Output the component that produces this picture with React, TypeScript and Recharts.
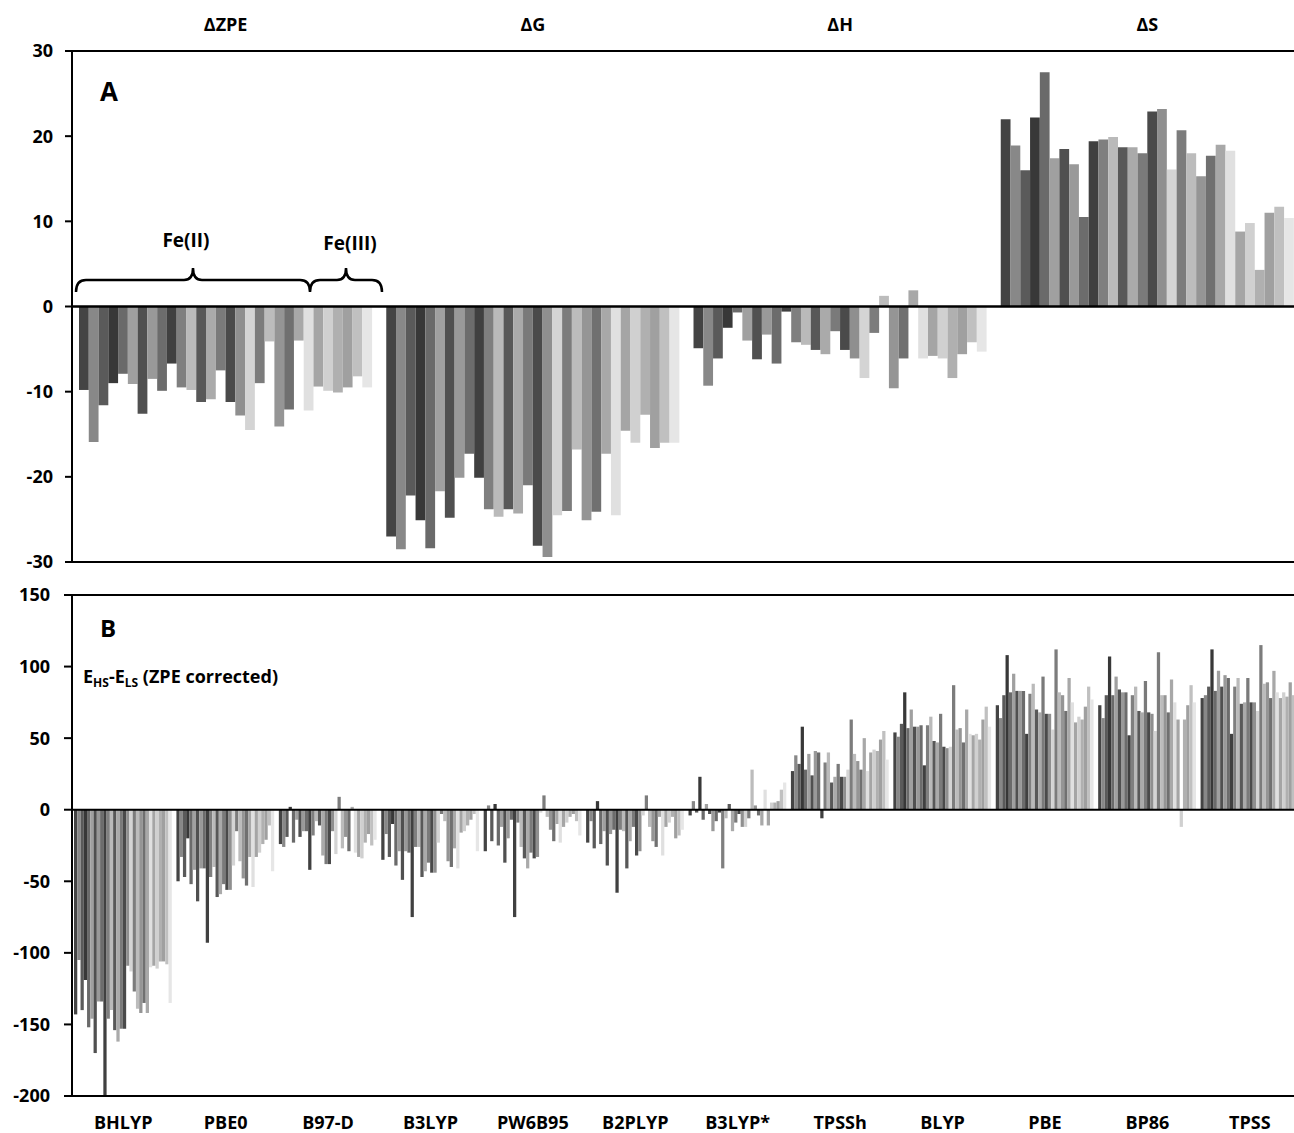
import React from 'react';
import { BarChart, Bar, XAxis, YAxis, ReferenceLine } from 'recharts';

// panel A: thermodynamic corrections per complex
const properties = ['ΔZPE', 'ΔG', 'ΔH', 'ΔS'];
const dZPE = [-9.8, -15.9, -11.6, -9.0, -7.9, -9.1, -12.6, -8.5, -9.9, -6.7, -9.5, -9.8, -11.2, -10.9, -7.5, -11.2, -12.8, -14.5, -9.0, -4.1, -14.1, -12.1, -4.0, -12.2, -9.4, -9.9, -10.1, -9.5, -8.2, -9.5];
const dG = [-27.0, -28.5, -22.2, -25.1, -28.4, -21.7, -24.8, -20.1, -17.3, -20.1, -23.8, -24.7, -23.8, -24.3, -21.0, -28.1, -29.4, -24.5, -24.0, -16.8, -25.1, -24.1, -17.3, -24.5, -14.6, -16.0, -12.7, -16.6, -16.0, -16.0];
const dH = [-4.9, -9.3, -6.1, -2.5, -0.7, -4.0, -6.2, -3.3, -6.7, -0.6, -4.2, -4.5, -5.1, -5.6, -2.9, -5.1, -6.1, -8.4, -3.1, 1.25, -9.6, -6.1, 1.9, -6.1, -5.8, -6.1, -8.4, -5.6, -4.2, -5.3];
const dS = [22.0, 18.9, 16.0, 22.2, 27.5, 17.4, 18.5, 16.7, 10.5, 19.4, 19.6, 19.9, 18.7, 18.7, 18.0, 22.9, 23.2, 16.1, 20.7, 18.0, 15.3, 17.7, 19.0, 18.3, 8.8, 9.8, 4.3, 11.0, 11.7, 10.4];
const ticksA = [-30, -20, -10, 0, 10, 20, 30];

// panel B: E_HS - E_LS per functional
const functionals = ['BHLYP', 'PBE0', 'B97-D', 'B3LYP', 'PW6B95', 'B2PLYP', 'B3LYP*', 'TPSSh', 'BLYP', 'PBE', 'BP86', 'TPSS'];
const bhlyp = [-143, -105, -140, -119, -152, -146, -170, -134, -134, -200, -146, -140, -154, -162, -153, -153, -109, -113, -127, -139, -142, -135, -142, -110, -109, -111, -106, -106, -108, -135];
const pbe0 = [-50, -33, -47, -20, -52, -42, -64, -41, -41, -93, -47, -40, -61, -59, -52, -56, -56, -39, -15, -36, -48, -53, -33, -54, -33, -30, -24, -21, -11, -43];
const b97d = [-24, -26, -19, 2, -23, -7, -19, -15, -15, -42, -18, -8, -11, -32, -38, -38, -15, -31, 9, -27, -19, -29, 2, -30, -33, -34, -23, -17, -25, -21];
const b3lyp = [-35, -17, -33, -10, -39, -29, -49, -29, -30, -75, -26, -26, -47, -43, -37, -44, -44, -23, -3, -8, -36, -40, -27, -41, -16, -15, -11, -7, -3, -29];
const pw6b95 = [-29, 3, -22, 4, -25, -12, -37, -20, -7, -75, -9, -26, -34, -41, -30, -34, -33, -2, 10, -5, -14, -22, -10, -23, -12, -9, -5, -3, -8, -18];
const b2plyp = [-23, -8, -27, 6, -24, -15, -39, -17, -14, -58, -14, -15, -41, -22, -12, -32, -29, -4, 10, -12, -22, -26, -5, -32, -12, -9, -5, -20, -18, -14];
const b3lypStar = [-4, 6, -2, 23, -7, 4, -3, -15, -8, -2, -41, -6, 4, -15, -9, -3, -12, -12, -6, 28, 3, -4, -11, 14, -11, 5, 5, 6, 14, 19];
const tpssh = [27, 38, 32, 58, 28, 39, 24, 41, 40, -6, 33, 40, 19, 23, 32, 23, 23, 28, 63, 39, 34, 28, 50, 27, 40, 42, 41, 49, 55, 35];
const blyp = [54, 51, 60, 82, 57, 70, 58, 58, 59, 31, 59, 65, 48, 47, 67, 44, 43, 44, 87, 56, 57, 47, 70, 53, 52, 53, 49, 63, 72, 58];
const pbe = [73, 64, 80, 108, 82, 95, 83, 83, 83, 53, 81, 88, 70, 68, 93, 67, 67, 56, 112, 82, 80, 69, 92, 75, 61, 65, 63, 72, 86, 77];
const bp86 = [73, 64, 80, 107, 80, 93, 84, 82, 82, 52, 80, 86, 69, 68, 90, 68, 67, 55, 110, 80, 80, 68, 91, 75, 63, -12, 63, 73, 87, 75];
const tpss = [78, 80, 86, 112, 83, 97, 86, 94, 92, 53, 86, 92, 74, 75, 92, 75, 75, 69, 115, 88, 89, 78, 97, 82, 78, 82, 79, 89, 80, 98];
const ticksB = [-200, -150, -100, -50, 0, 50, 100, 150];

// one grey per complex
const SHADES = [
  '#444444', '#888888', '#5a5a5a', '#383838', '#6a6a6a', '#a0a0a0', '#505050', '#999999', '#6c6c6c', '#404040',
  '#7f7f7f', '#bababa', '#585858', '#aaaaaa', '#7a7a7a', '#4a4a4a', '#8f8f8f', '#d4d4d4', '#7c7c7c', '#bcbcbc',
  '#959595', '#707070', '#a8a8a8', '#e0e0e0', '#a5a5a5', '#d0d0d0', '#b0b0b0', '#a0a0a0', '#c0c0c0', '#e6e6e6',
];

const toRows = (names: string[], series: number[][]) =>
  names.map((name, k) => {
    const row: Record<string, any> = { name };
    series[k].forEach((v, i) => { row[`c${i}`] = v; });
    return row;
  });

const dataA = toRows(properties, [dZPE, dG, dH, dS]);
const dataB = toRows(functionals, [bhlyp, pbe0, b97d, b3lyp, pw6b95, b2plyp, b3lypStar, tpssh, blyp, pbe, bp86, tpss]);

const FONT = "'Open Sans', sans-serif";
const tickStyle = { fill: '#000', fontSize: 18, fontWeight: 700, fontFamily: FONT };
const black = { stroke: '#000', strokeWidth: 2 };

const bars = (size: number) =>
  SHADES.map((c, i) => (
    <Bar key={i} dataKey={`c${i}`} fill={c} barSize={size} isAnimationActive={false} />
  ));

export default function App() {
  return (
    <div style={{ position: 'absolute', left: 0, top: 0, width: 1294, height: 1133, overflow: 'hidden', background: '#fff', fontFamily: FONT }}>
      <div style={{ position: 'absolute', left: 0, top: 0 }}>
        <BarChart width={1320} height={580} data={dataA} barGap={0} margin={{ top: 0, right: 19, bottom: 18, left: 0 }}>
          <XAxis dataKey="name" orientation="top" height={51} interval={0} axisLine={black} tickLine={false} tickSize={0} tickMargin={20} tick={tickStyle} />
          <YAxis domain={[-30, 30]} ticks={ticksA} interval={0} width={72} axisLine={black} tickLine={black} tickSize={7} tickMargin={12} tick={tickStyle} />
          {bars(9.77)}
          <ReferenceLine y={0} stroke="#000" strokeWidth={2.5} />
          <ReferenceLine y={-30} stroke="#000" strokeWidth={2} />
        </BarChart>
      </div>
      <div style={{ position: 'absolute', left: 0, top: 580 }}>
        <BarChart width={1320} height={553} data={dataB} barGap={0} margin={{ top: 15, right: 19, bottom: 0, left: 0 }}>
          <XAxis dataKey="name" height={37} interval={0} axisLine={black} tickLine={false} tickSize={0} tickMargin={20} tick={tickStyle} />
          <YAxis domain={[-200, 150]} ticks={ticksB} interval={0} width={72} axisLine={black} tickLine={black} tickSize={8} tickMargin={14} tick={tickStyle} />
          {bars(3.26)}
          <ReferenceLine y={0} stroke="#000" strokeWidth={2} />
          <ReferenceLine y={150} stroke="#000" strokeWidth={2} />
        </BarChart>
      </div>
      <svg width={1294} height={1133} style={{ position: 'absolute', left: 0, top: 0, pointerEvents: 'none' }}>
        <g fontFamily={FONT} fontWeight={700} fill="#000">
          <text x={100} y={101} fontSize={26}>A</text>
          <text x={100} y={637} fontSize={24}>B</text>
          <text x={186} y={247} fontSize={19} textAnchor="middle">Fe(II)</text>
          <text x={350} y={250} fontSize={19} textAnchor="middle">Fe(III)</text>
          <text x={83} y={683} fontSize={18}>
            E<tspan fontSize={12} dy={4}>HS</tspan>
            <tspan dy={-4}>-E</tspan>
            <tspan fontSize={12} dy={4}>LS</tspan>
            <tspan dy={-4}> (ZPE corrected)</tspan>
          </text>
        </g>
        <path
          d="M76,292 Q76,280 86,280 L184,280 Q193,280 193,268 Q193,280 202,280 L300,280 Q310,280 310,292 Q310,280 320,280 L337,280 Q346,280 346,268 Q346,280 355,280 L372,280 Q382,280 382,292"
          fill="none" stroke="#000" strokeWidth={2.5}
        />
      </svg>
    </div>
  );
}
